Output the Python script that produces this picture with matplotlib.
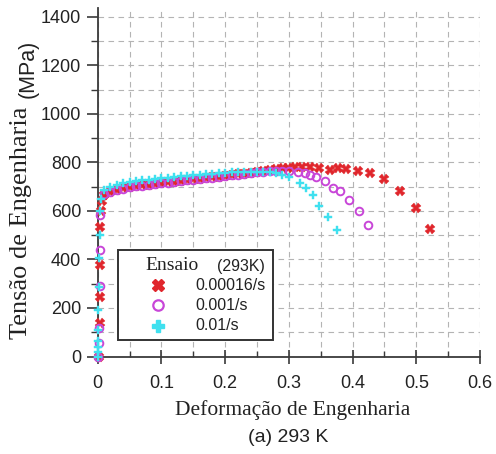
import matplotlib
matplotlib.use("Agg")
import matplotlib.pyplot as plt
from matplotlib.ticker import MultipleLocator
from matplotlib.patches import Rectangle
from matplotlib.lines import Line2D

# ---- data ----
red_x = [0.002, 0.003, 0.003, 0.004, 0.004, 0.005, 0.006,
         0.01, 0.02, 0.03, 0.04, 0.05, 0.06, 0.07, 0.08, 0.09, 0.10,
         0.11, 0.12, 0.13, 0.14, 0.15, 0.16, 0.17, 0.18, 0.19, 0.20,
         0.21, 0.22, 0.23, 0.24, 0.25, 0.26, 0.27, 0.28,
         0.291, 0.299, 0.309, 0.320, 0.333, 0.348, 0.364, 0.377, 0.390,
         0.408, 0.427, 0.450, 0.474, 0.499, 0.522]
red_y = [0, 138, 247, 377, 535, 600, 640,
         665, 680, 688, 694, 698, 702, 706, 709, 712, 715,
         718, 721, 724, 727, 730, 733, 736, 739, 742, 745,
         748, 751, 754, 757, 762, 766, 770, 774,
         776, 779, 780, 783, 780, 779, 768, 776, 772,
         766, 755, 731, 684, 612, 527]

mag_x = [0.001, 0.002, 0.002, 0.003, 0.003, 0.004,
         0.01, 0.02, 0.03, 0.04, 0.05, 0.06, 0.07, 0.08, 0.09, 0.10,
         0.11, 0.12, 0.13, 0.14, 0.15, 0.16, 0.17, 0.18, 0.19, 0.20,
         0.21, 0.22, 0.23, 0.24, 0.25, 0.26, 0.27, 0.28, 0.29, 0.30,
         0.314, 0.325, 0.333, 0.343, 0.356, 0.369, 0.380, 0.395, 0.410, 0.424]
mag_y = [0, 55, 116, 290, 439, 583,
         668, 678, 686, 692, 697, 701, 705, 708, 711, 714,
         717, 720, 723, 726, 729, 732, 735, 738, 741, 744,
         747, 750, 753, 756, 759, 761, 763, 764, 765, 765,
         762, 755, 748, 739, 724, 694, 684, 645, 601, 542]

cyan_x = [0.000, 0.000, 0.001, 0.001, 0.001, 0.001, 0.002, 0.002, 0.003, 0.003, 0.005,
          0.01, 0.02, 0.03, 0.04, 0.05, 0.06, 0.07, 0.08, 0.09, 0.10,
          0.11, 0.12, 0.13, 0.14, 0.15, 0.16, 0.17, 0.18, 0.19, 0.20,
          0.21, 0.22, 0.23, 0.24, 0.25, 0.26, 0.27, 0.28, 0.29, 0.30,
          0.317, 0.327, 0.338, 0.348, 0.361, 0.375]
cyan_y = [0, 20, 40, 65, 110, 192, 288, 406, 501, 600, 650,
          686, 700, 708, 714, 718, 722, 726, 729, 732, 735,
          738, 740, 743, 745, 747, 749, 751, 753, 755, 757,
          759, 760, 761, 762, 762, 761, 759, 756, 750, 740,
          714, 694, 666, 621, 574, 522]

series_labels = ["0.00016/s", "0.001/s", "0.01/s"]
x_ticks = [0, 0.1, 0.2, 0.3, 0.4, 0.5, 0.6]
x_ticklabels = ["0", "0.1", "0.2", "0.3", "0.4", "0.5", "0.6"]
y_ticks = [0, 200, 400, 600, 800, 1000, 1200, 1400]

RED = "#e0262c"
MAG = "#c846d8"
CYAN = "#3fe0ef"
SPINE = "#3a3a3a"
TXT = "#222222"

W, H = 496, 454
fig = plt.figure(figsize=(W / 100, H / 100), dpi=100)
ax = fig.add_axes([97.7 / W, 1 - 356.5 / H, 382.3 / W, 348.5 / H])

ax.set_xlim(0, 0.6)
ax.set_ylim(0, 1437)

ax.set_xticks(x_ticks)
ax.set_xticklabels(x_ticklabels)
ax.set_yticks(y_ticks)
ax.set_yticklabels([str(v) for v in y_ticks])
ax.xaxis.set_minor_locator(MultipleLocator(0.05))
ax.yaxis.set_minor_locator(MultipleLocator(100))

ax.grid(True, which="both", linestyle=(0, (5, 4)), color="#b4b4b4", linewidth=0.8)
ax.set_axisbelow(True)

for s in ["top", "right"]:
    ax.spines[s].set_visible(False)
for s in ["left", "bottom"]:
    ax.spines[s].set_color(SPINE)
    ax.spines[s].set_linewidth(1.3)

ax.tick_params(axis="x", which="major", direction="inout", length=10, width=1.2,
               color=SPINE, labelsize=13, labelcolor=TXT, pad=8)
ax.tick_params(axis="x", which="minor", direction="in", length=4, width=1.0, color=SPINE)
ax.tick_params(axis="y", which="major", direction="out", length=8, width=1.2,
               color=SPINE, labelsize=13, labelcolor=TXT, pad=4)
ax.tick_params(axis="y", which="minor", direction="out", length=5, width=1.0, color=SPINE)
for lab in ax.get_xticklabels() + ax.get_yticklabels():
    lab.set_fontfamily("Liberation Sans")

ax.plot(red_x, red_y, linestyle="none", marker="X", ms=6.5, color=RED,
        mec=RED, mew=0.3, clip_on=False, zorder=3)
ax.plot(mag_x, mag_y, linestyle="none", marker="o", ms=5.5, mfc="none",
        mec=MAG, mew=1.4, clip_on=False, zorder=4)
ax.plot(cyan_x, cyan_y, linestyle="none", marker="P", ms=6.2, color=CYAN,
        mec=CYAN, mew=0.3, clip_on=False, zorder=5)

def P(x, y):
    return (x / W, 1 - y / H)

# axis labels
fig.text(*P(293, 410), "Deformação de Engenharia", family="Liberation Serif",
         size=15.5, ha="center", va="center", color=TXT)
fig.text(*P(288, 437), "(a) 293 K", family="Liberation Sans",
         size=14, ha="center", va="center", color=TXT)
fig.text(*P(21, 223), "Tensão de Engenharia", family="Liberation Serif",
         size=19, ha="center", va="center", rotation=90, color=TXT)
fig.text(*P(28, 69), "(MPa)", family="Liberation Sans",
         size=15.5, ha="center", va="center", rotation=90, color=TXT)

# legend box
x0, y0 = P(118.3, 340)
x1, y1 = P(273, 250)
fig.add_artist(Rectangle((x0, y0), x1 - x0, y1 - y0, transform=fig.transFigure,
                         facecolor="white", edgecolor="#333333", linewidth=1.4, zorder=10))
fig.text(*P(145, 266), "Ensaio", family="Liberation Serif", size=14,
         ha="left", va="center", color=TXT, zorder=11)
fig.text(*P(265, 267), "(293K)", family="Liberation Sans", size=11.5,
         ha="right", va="center", color=TXT, zorder=11)
rows_y = [285, 305, 326]
styles = [dict(marker="X", ms=8, color=RED, mec=RED),
          dict(marker="o", ms=7.5, mfc="none", mec=MAG, mew=1.6),
          dict(marker="P", ms=8, color=CYAN, mec=CYAN)]
for ry, lab, st in zip(rows_y, series_labels, styles):
    mx, my = P(158, ry)
    fig.add_artist(Line2D([mx], [my], transform=fig.transFigure, linestyle="none",
                          zorder=11, **st))
    fig.text(*P(195, ry), lab, family="Liberation Sans", size=11.5,
             ha="left", va="center", color=TXT, zorder=11)

fig.savefig("out.png", dpi=100)
